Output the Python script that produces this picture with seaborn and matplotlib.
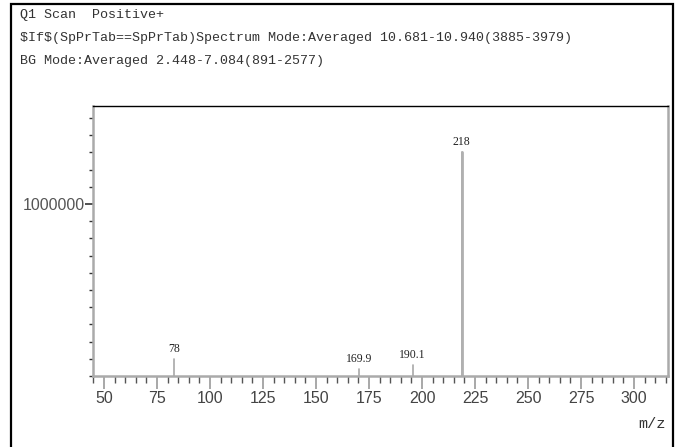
import matplotlib.pyplot as plt
import matplotlib.ticker as mticker
from matplotlib.patches import Rectangle
import seaborn as sns
import pandas as pd

# peak data (positions as drawn, labels as printed)
peak_mz = [83.2, 170.3, 195.5, 218.6]
peak_intensity = [100000, 40000, 64000, 1300000]
peak_labels = ['78', '169.9', '190.1', '218']

header_lines = [
    'Q1 Scan  Positive+',
    '$If$(SpPrTab==SpPrTab)Spectrum Mode:Averaged 10.681-10.940(3885-3979)',
    'BG Mode:Averaged 2.448-7.084(891-2577)',
]
x_ticks = [50, 75, 100, 125, 150, 175, 200, 225, 250, 275, 300]

# stick segments for lineplot
rows = []
for i, (mz, h) in enumerate(zip(peak_mz, peak_intensity)):
    rows.append({'peak': i, 'mz': mz, 'intensity': 0})
    rows.append({'peak': i, 'mz': mz, 'intensity': h})
df = pd.DataFrame(rows)

sns.set_theme(style='white')

fig = plt.figure(figsize=(6.76, 4.47), dpi=100)
ax = fig.add_axes([0.1376, 0.1588, 0.8506, 0.6040])

sns.lineplot(data=df, x='mz', y='intensity', units='peak', estimator=None,
             sort=False, color='#a8a8a8', linewidth=1.2, ax=ax, legend=False)
# the base peak is drawn a bit thicker
big = df[df['peak'] == 3]
sns.lineplot(data=big, x='mz', y='intensity', estimator=None, sort=False,
             color='#b0b0b0', linewidth=2.0, ax=ax, legend=False)

for mz, h, lab in zip(peak_mz, peak_intensity, peak_labels):
    ax.annotate(lab, (mz, h), xytext=(0, 3), textcoords='offset points',
                ha='center', va='bottom', fontsize=8.5,
                family='Liberation Serif', color='#222222')

ax.set_xlim(44.8, 316)
ax.set_ylim(0, 1570000)
ax.set_xlabel('')
ax.set_ylabel('')

ax.xaxis.set_major_locator(mticker.FixedLocator(x_ticks))
ax.xaxis.set_minor_locator(mticker.MultipleLocator(5))
ax.yaxis.set_major_locator(mticker.FixedLocator([1000000]))
ax.yaxis.set_minor_locator(mticker.MultipleLocator(100000))
ax.yaxis.set_major_formatter(mticker.FuncFormatter(lambda v, p: '%d' % v))

ax.tick_params(axis='x', which='major', direction='out', length=9, width=1.2,
               color='#999999', labelsize=11.5, labelcolor='#444444', pad=2,
               bottom=True)
ax.tick_params(axis='x', which='minor', direction='out', length=5, width=1,
               color='#555555', bottom=True)
ax.tick_params(axis='y', which='major', direction='out', length=6, width=1.2,
               color='#333333', labelsize=11.5, labelcolor='#555555', pad=0,
               left=True)
ax.tick_params(axis='y', which='minor', direction='out', length=3, width=1,
               color='#333333', left=True)
for lab in ax.get_xticklabels() + ax.get_yticklabels():
    lab.set_family('Liberation Sans')
    lab.set_fontstretch('condensed')

for side in ['left', 'bottom', 'right']:
    ax.spines[side].set_color('#aaaaaa')
    ax.spines[side].set_linewidth(1.8)
ax.spines['top'].set_color('black')
ax.spines['top'].set_linewidth(1.0)

# header text
for i, line in enumerate(header_lines):
    fig.text(0.030, 0.980 - i * 0.052, line.replace('$', r'\$'),
             fontsize=9.6, family='Liberation Mono', color='#333333',
             va='top', ha='left')

fig.text(0.985, 0.035, 'm/z', fontsize=11, family='Liberation Mono',
         color='#333333', ha='right', va='bottom')

# outer frame
fig.patches.append(Rectangle((0.017, -0.05), 0.978, 1.04, transform=fig.transFigure,
                             fill=False, edgecolor='black', linewidth=1.6))

fig.savefig('out.png', dpi=100)
